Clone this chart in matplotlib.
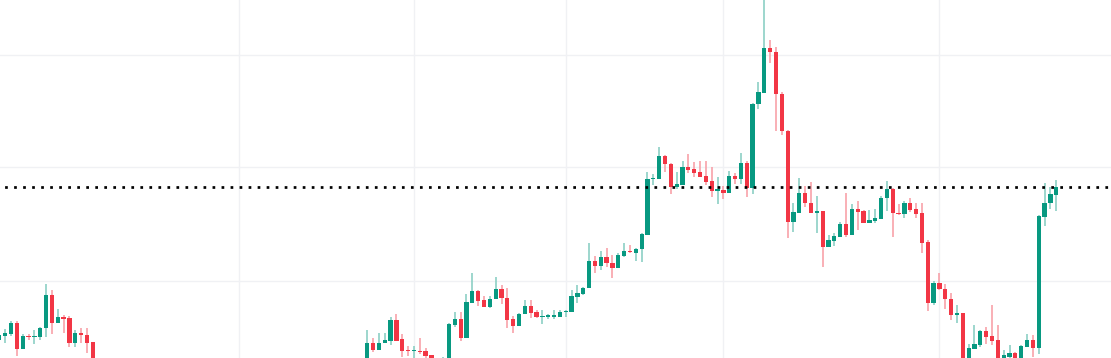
import numpy as np
import matplotlib.pyplot as plt

# velas del primer tramo (izquierda)
seg1_open = [18, 22, 24, 35, 9, 22, 21, 21.5, 30, 63, 35, 41.5, 40, 15.5, 25.5, 23, 16]
seg1_high = [24, 29, 37, 37, 24, 24, 28, 31.5, 74, 68, 49, 43, 42, 28, 30, 30, 16]
seg1_low = [16, 15, 22, 2, 9, 18, 14, 18, 21.5, 24, 35, 25, 11.5, 11.5, 15.5, 5.5, -15]
seg1_close = [23, 25.5, 35, 9, 22, 21, 22, 30, 63, 35, 41.5, 39, 15.5, 25.5, 23, 15.5, -10]

# velas fuera de la vista (debajo del grafico)
gap = 46

# velas del segundo tramo
seg2_open = [-5, 14.7, 8, 14.7, 17.3, 38, 19, 7.5, 7, 7.3,
             7.3, 3, -6, -9, -3, 33, 39, 19.7, 55.3, 67,
             58, 51.3, 58.7, 68.7, 59.7, 38.7, 32.3, 44, 52, 46,
             41.3, 41.5, 41.5, 41.3, 46.3, 46.3, 61.3, 64, 69.7, 97,
             92.3, 100.7, 94.7, 90.3, 102, 107, 105.3, 108.7, 123, 179,
             179, 202, 194, 171.3, 173, 190.7, 188.7, 186, 182, 177,
             167.3, 168, 165.3, 182, 179.3, 195.3, 169.7, 253.7, 265.3, 309.7,
             305.7, 263.7, 227, 136.3, 145.3, 165.3, 155.3, 145.3, 147, 111.3,
             117.3, 121.3, 134, 123, 148.7, 147, 135.3, 137.3, 139, 159.7,
             169, 145.3, 143.7, 155.3, 149, 144.7, 115.7, 54.7, 74.7, 68.7,
             58.7, 43, 44.7, -2, 9, 13, 27, 22, 18, -3,
             1.3, 5.3, -1, 11.3, 18, 10, 141.3, 154.7, 163]
seg2_high = [28, 20, 24.7, 24.7, 40.7, 43.7, 24, 12, 12, 20,
             10.3, 3, -2, 1.3, 34.7, 46, 46, 64, 85, 68,
             62, 62, 81, 73, 70.3, 42, 44.7, 58, 58, 48,
             48, 44, 48, 48, 48, 68, 73, 71.3, 114.7, 102,
             107.3, 109.7, 103, 104.7, 114.7, 113, 109.7, 125.3, 186, 184,
             211.3, 203, 195.3, 186, 197, 204, 196.3, 197, 197, 190.7,
             180.7, 172, 187, 184.7, 204.7, 197, 254.7, 276, 362, 318,
             310.7, 265.7, 228, 155.3, 179.7, 172, 176, 162, 147, 123,
             124.7, 136.3, 164.7, 154, 157, 148, 148, 148.7, 162, 177,
             170.3, 154, 157, 159.7, 155.3, 155.3, 118, 77, 84.7, 74,
             65.3, 53, 45.3, 14, 33, 28, 30.7, 53, 33, 8,
             13, 6.3, 13, 24, 23, 143, 174.7, 171.3, 178]
seg2_low = [-8, 6.3, 8, 14.7, 13, 17.3, 1.3, 2, 0, 4,
            0, -9, -14, -12, -5, 31.3, 17.3, 19.7, 55.3, 52,
            51.3, 50.3, 58.7, 54, 30.3, 25.3, 32.3, 44, 40.3, 39.7,
            33.7, 39.3, 39, 40.7, 40.7, 46.3, 55.3, 63, 69.7, 84.7,
            88, 91.3, 79.7, 90.3, 101.3, 104.7, 97.3, 96.3, 123, 173,
            179, 186.3, 164, 168.7, 173, 185.3, 180.7, 181.3, 173, 160.7,
            153.7, 159.3, 165.3, 173.7, 173.7, 160.7, 163.7, 249.3, 265.3, 294.7,
            227.3, 222.7, 120.3, 126.3, 144.7, 151.3, 144.7, 124.7, 91.3, 111.3,
            112, 121.3, 121.3, 123, 128, 134.7, 135.3, 135.3, 139, 147.3,
            121.3, 143, 140.3, 146.3, 139.7, 104.7, 47.3, 53, 68, 48.7,
            38, 34.7, -6, -5, 9, 11.3, 13.7, 13, -6, -5,
            0, -4, -3, 11.3, 1.3, 4, 132, 149, 147]
seg2_close = [15.3, 8, 14.7, 18, 38, 17.3, 7.3, 7, 7.5, 6,
              2, -6, -10, -3, 34, 39, 19.7, 56, 67, 57.3,
              51.3, 58.7, 68.7, 59.7, 38, 32.3, 44, 52, 45.3, 41.3,
              42, 42, 42, 46, 47.3, 62, 65.3, 70.3, 97, 92.3,
              100.7, 94.7, 90.3, 103, 107, 106, 109, 124, 179, 180.3,
              202, 194, 171.3, 174, 190.7, 188, 185.3, 181.3, 176.3, 167.3,
              168.7, 165.3, 182, 179.3, 194.7, 169.7, 253.7, 265.7, 309.7, 305.7,
              263.7, 227, 136.3, 146, 165.3, 154.7, 145.3, 147, 111.3, 118,
              122, 134, 123, 148.7, 146.3, 135.3, 138, 139.7, 160.3, 169,
              144.7, 143.7, 155.3, 148, 143.7, 115.3, 54.7, 74.7, 68.7, 58.7,
              43, 44.7, -2, 9.7, 14, 27, 21.3, 17, -3, 3,
              5.3, -1, 12, 18, 10, 142, 155.3, 163.7, 170.7]

# lineas de referencia
price_line = 171
grid_y = [77, 191, 303]
grid_x = [41, 71, 97, 124, 161]

up_color = '#089981'
down_color = '#f23645'
up_wick = '#83ccc0'
down_wick = '#f89aa2'

o = np.array(seg1_open + [np.nan] * gap + seg2_open, dtype=float)
h = np.array(seg1_high + [np.nan] * gap + seg2_high, dtype=float)
l = np.array(seg1_low + [np.nan] * gap + seg2_low, dtype=float)
c = np.array(seg1_close + [np.nan] * gap + seg2_close, dtype=float)
assert len(o) == len(h) == len(l) == len(c)

x = np.arange(len(o))
ok = ~np.isnan(o)
x, o, h, l, c = x[ok], o[ok], h[ok], l[ok], c[ok]
up = c >= o

fig = plt.figure(figsize=(11.11, 3.58), dpi=100)
ax = fig.add_axes([0, 0, 1, 1])

# cuadricula
for gy in grid_y:
    ax.axhline(gy, color='#f0f1f4', lw=1, zorder=0)
for gx in grid_x:
    ax.axvline(gx, color='#f0f1f4', lw=1, zorder=0)

# mechas y cuerpos
ax.vlines(x, l, h, colors=np.where(up, up_wick, down_wick), lw=1.1, zorder=2)
ax.bar(x, np.maximum(np.abs(c - o), 1.2), bottom=np.minimum(o, c), width=0.73,
       color=np.where(up, up_color, down_color), lw=0, zorder=3)

# linea de precio punteada
ax.axhline(price_line, color='black', lw=1.95, linestyle=(1.63, (1, 2.33)), zorder=4)

ax.set_xlim(0.11, 190.38)
ax.set_ylim(0, 358)
ax.axis('off')

fig.savefig('out.png', dpi=100)
